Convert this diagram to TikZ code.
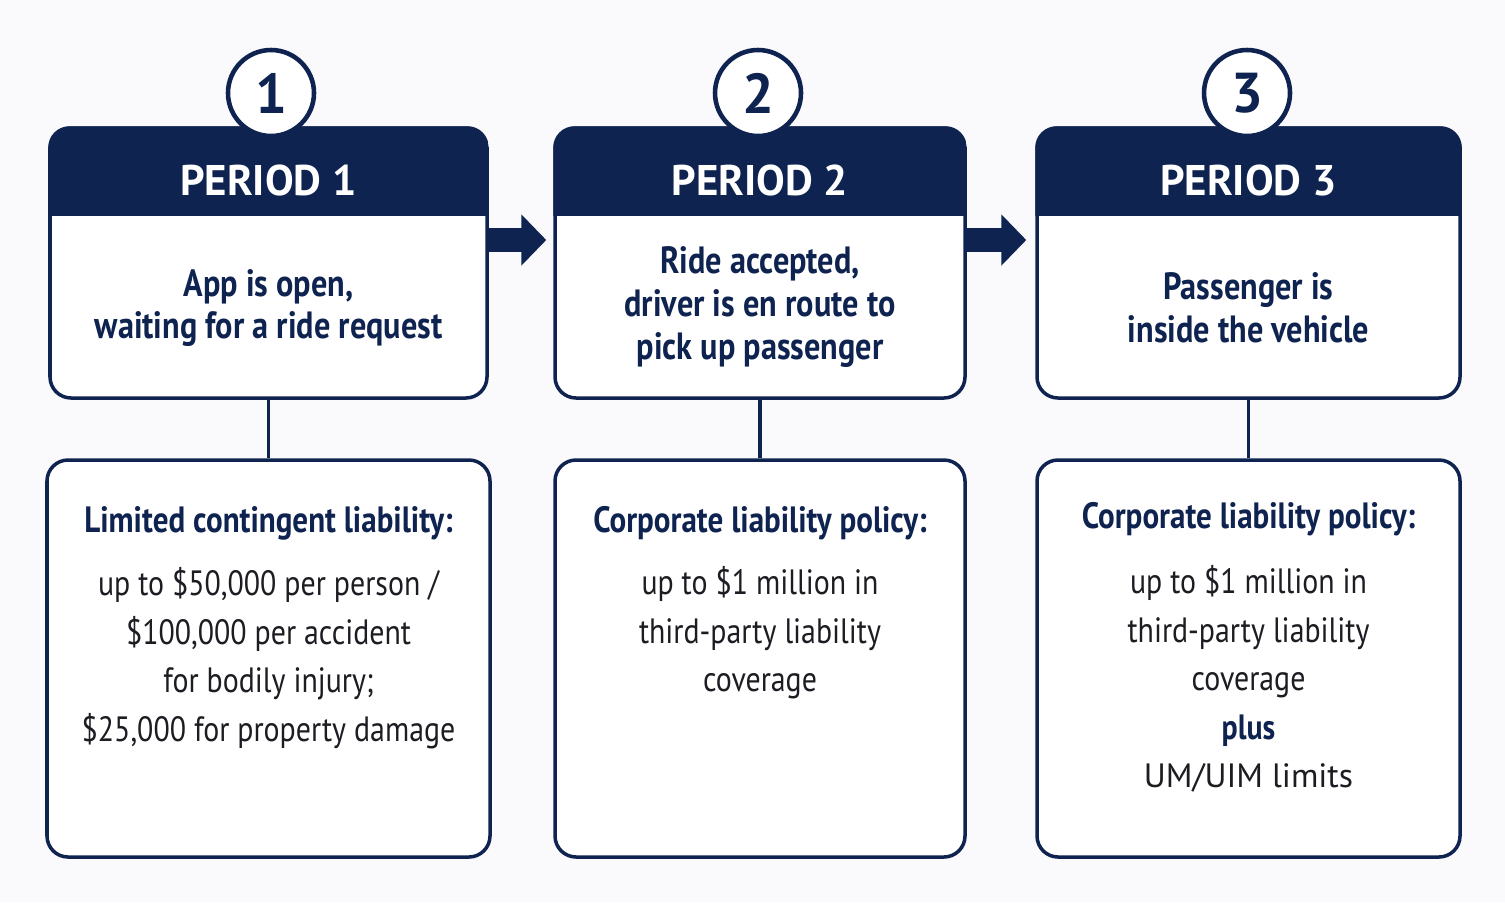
\documentclass[tikz,border=0pt]{standalone}
\usepackage{fontspec}
\setmainfont{PT Sans}
\newfontfamily\narrowfont[FakeStretch=0.85]{PT Sans}
\usepackage{tikz}
\usetikzlibrary{arrows.meta}
\definecolor{navy}{RGB}{15,35,80}
\definecolor{ink}{RGB}{28,28,34}
\definecolor{paper}{RGB}{250,250,252}

\begin{document}
\begin{tikzpicture}[
    box/.style={draw=navy, line width=1pt, rounded corners=6pt, fill=white, inner sep=0pt},
    headtext/.style={text=white, font=\bfseries\fontsize{12.2}{14}\selectfont},
    lead/.style={align=center, text=navy, font=\narrowfont\bfseries\fontsize{10.8}{12.2}\selectfont},
    cover/.style={text=navy, font=\narrowfont\bfseries\fontsize{10.4}{12}\selectfont},
    plain/.style={align=center, text=ink, font=\narrowfont\fontsize{10}{13.8}\selectfont},
    num/.style={circle, draw=navy, line width=1.3pt, fill=white, minimum size=0.86cm, inner sep=0pt, text=navy, font=\bfseries\fontsize{16}{18}\selectfont},
    link/.style={draw=navy, line width=1pt},
    flow/.style={navy, line width=0.24cm, -{Triangle[length=0.25cm,width=0.5cm]}}
]
\fill[paper] (0,0) rectangle (15.05,9.02);
\useasboundingbox (0,0) rectangle (15.05,9.02);

% top boxes
\node[box, minimum width=4.37cm, minimum height=2.70cm] (p1) at (2.685,6.39) {};
\node[box, minimum width=4.10cm, minimum height=2.70cm] (p2) at (7.60,6.39) {};
\node[box, minimum width=4.23cm, minimum height=2.70cm] (p3) at (12.485,6.39) {};

% header bands
\foreach \i in {1,2,3} {
  \begin{scope}
    \clip[rounded corners=6pt] (p\i.south west) rectangle (p\i.north east);
    \fill[navy] (p\i.north west) rectangle ([yshift=-0.9cm]p\i.north east);
  \end{scope}
}

\node[headtext] (h1) at (2.685,7.22) {PERIOD 1};
\node[headtext] (h2) at (7.60,7.22) {PERIOD 2};
\node[headtext] (h3) at (12.485,7.22) {PERIOD 3};

\node[num] (n1) at (2.71,8.09) {1};
\node[num] (n2) at (7.58,8.09) {2};
\node[num] (n3) at (12.47,8.09) {3};

\node[lead] (t1) at (2.685,5.94) {App is open,\\waiting for a ride request};
\node[lead] (t2) at (7.60,5.95) {Ride accepted,\\driver is en route to\\pick up passenger};
\node[lead] (t3) at (12.485,5.94) {Passenger is\\inside the vehicle};

% coverage boxes
\node[box, minimum width=4.43cm, minimum height=3.97cm] (c1) at (2.685,2.435) {};
\node[box, minimum width=4.10cm, minimum height=3.97cm] (c2) at (7.60,2.435) {};
\node[box, minimum width=4.23cm, minimum height=3.97cm] (c3) at (12.485,2.435) {};

\node[cover] (k1) at (2.685,3.79) {Limited contingent liability:};
\node[cover] (k2) at (7.60,3.79) {Corporate liability policy:};
\node[cover] (k3) at (12.485,3.83) {Corporate liability policy:};

\node[plain] (d1) at (2.685,2.44) {up to \$50,000 per person /\\\$100,000 per accident\\for bodily injury;\\\$25,000 for property damage};
\node[plain] (d2) at (7.60,2.69) {up to \$1 million in\\third-party liability\\coverage};
\node[plain] (d3) at (12.485,2.23) {up to \$1 million in\\third-party liability\\coverage\\\textcolor{navy}{\bfseries plus}\\{\rmfamily\fontsize{9.6}{13.8}\selectfont UM/UIM limits}};

\path[link] (p1) edge (c1);
\path[link] (p2) edge (c2);
\path[link] (p3) edge (c3);

\draw[flow, shorten >=0.07cm] ([yshift=0.23cm]p1.east) -- ([yshift=0.23cm]p2.west);
\draw[flow, shorten >=0.09cm] ([yshift=0.23cm]p2.east) -- ([yshift=0.23cm]p3.west);

\end{tikzpicture}
\end{document}
